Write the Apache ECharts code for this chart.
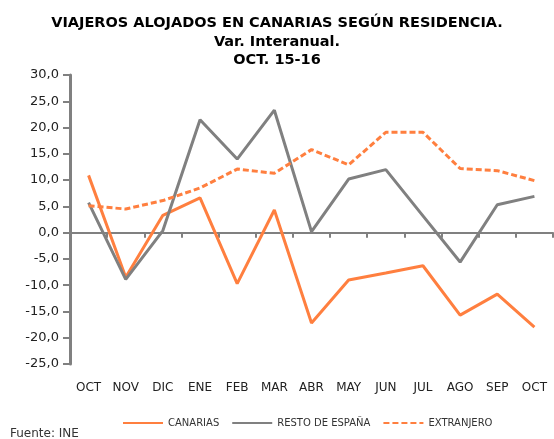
<!DOCTYPE html>
<html>
<head>
<meta charset="utf-8">
<script src="https://cdn.jsdelivr.net/npm/echarts@6/dist/echarts.min.js"></script>
<style>
  html, body { margin: 0; padding: 0; background: #fff; }
  #chart { width: 554px; height: 439px; }
</style>
</head>
<body>
<div id="chart"></div>
<script>
// meses OCT 15 - OCT 16
const months = ['OCT', 'NOV', 'DIC', 'ENE', 'FEB', 'MAR', 'ABR', 'MAY', 'JUN', 'JUL', 'AGO', 'SEP', 'OCT']
// variación interanual (%)
const canarias = [10.9, -8.5, 3.3, 6.6, -9.7, 4.3, -17.2, -9.0, -7.7, -6.3, -15.7, -11.7, -18.0]
const restoEspana = [5.7, -8.9, 0.4, 21.5, 14.0, 23.3, 0.2, 10.2, 12.0, 3.2, -5.6, 5.3, 6.9]
const extranjero = [5.1, 4.5, 6.1, 8.5, 12.1, 11.3, 15.8, 12.9, 19.1, 19.1, 12.2, 11.8, 9.9]

const orange = '#FF7F3F'
const gray = '#808080'
const font = 'DejaVu Sans'

const chart = echarts.init(document.getElementById('chart'))
chart.setOption({
  animation: false,
  title: {
    text: 'VIAJEROS ALOJADOS EN CANARIAS SEGÚN RESIDENCIA.\nVar. Interanual.\nOCT. 15-16',
    left: 'center',
    top: 9,
    textStyle: { fontFamily: font, fontSize: 14.5, fontWeight: 'bold', color: '#000', lineHeight: 18.5 }
  },
  legend: {
    left: 117,
    top: 413,
    itemWidth: 40,
    itemHeight: 12,
    itemGap: 12,
    itemTextGap: 3,
    itemStyle: { opacity: 0 },
    textStyle: { fontFamily: font, fontSize: 10, color: '#333' },
    data: ['CANARIAS', 'RESTO DE ESPAÑA', 'EXTRANJERO']
  },
  graphic: [{
    type: 'text',
    left: 10,
    top: 428,
    style: { text: 'Fuente: INE', font: '12px DejaVu Sans', fill: '#333' }
  }],
  grid: { left: 70, right: 1, top: 75, bottom: 75 },
  xAxis: [
    {
      // eje en el cero con marcas
      type: 'category',
      position: 'top',
      data: months,
      boundaryGap: true,
      axisLine: { onZero: true, lineStyle: { color: gray, width: 2 } },
      axisTick: { show: true, inside: true, length: 5, interval: 0, lineStyle: { color: gray, width: 2 } },
      axisLabel: { show: false }
    },
    {
      // etiquetas abajo
      type: 'category',
      position: 'bottom',
      data: months,
      boundaryGap: true,
      axisLine: { show: false, onZero: false },
      axisTick: { show: false },
      axisLabel: { interval: 0, margin: 18, fontFamily: font, fontSize: 12, color: '#222' }
    }
  ],
  yAxis: {
    type: 'value',
    min: -25,
    max: 30,
    interval: 5,
    axisLine: { show: true, lineStyle: { color: gray, width: 3 } },
    axisTick: { show: true, length: 7, lineStyle: { color: gray, width: 2 } },
    splitLine: { show: false },
    axisLabel: {
      margin: 11,
      fontFamily: font,
      fontSize: 13,
      color: '#222',
      formatter: v => v.toFixed(1).replace('.', ',')
    }
  },
  series: [
    {
      name: 'CANARIAS',
      type: 'line',
      data: canarias,
      showSymbol: false,
      symbol: 'none',
      lineStyle: { color: orange, width: 3 },
      itemStyle: { color: orange }
    },
    {
      name: 'RESTO DE ESPAÑA',
      type: 'line',
      data: restoEspana,
      showSymbol: false,
      symbol: 'none',
      lineStyle: { color: gray, width: 3 },
      itemStyle: { color: gray }
    },
    {
      name: 'EXTRANJERO',
      type: 'line',
      data: extranjero,
      showSymbol: false,
      symbol: 'none',
      lineStyle: { color: orange, width: 3, type: [6, 3] },
      itemStyle: { color: orange }
    }
  ]
})
</script>
</body>
</html>
